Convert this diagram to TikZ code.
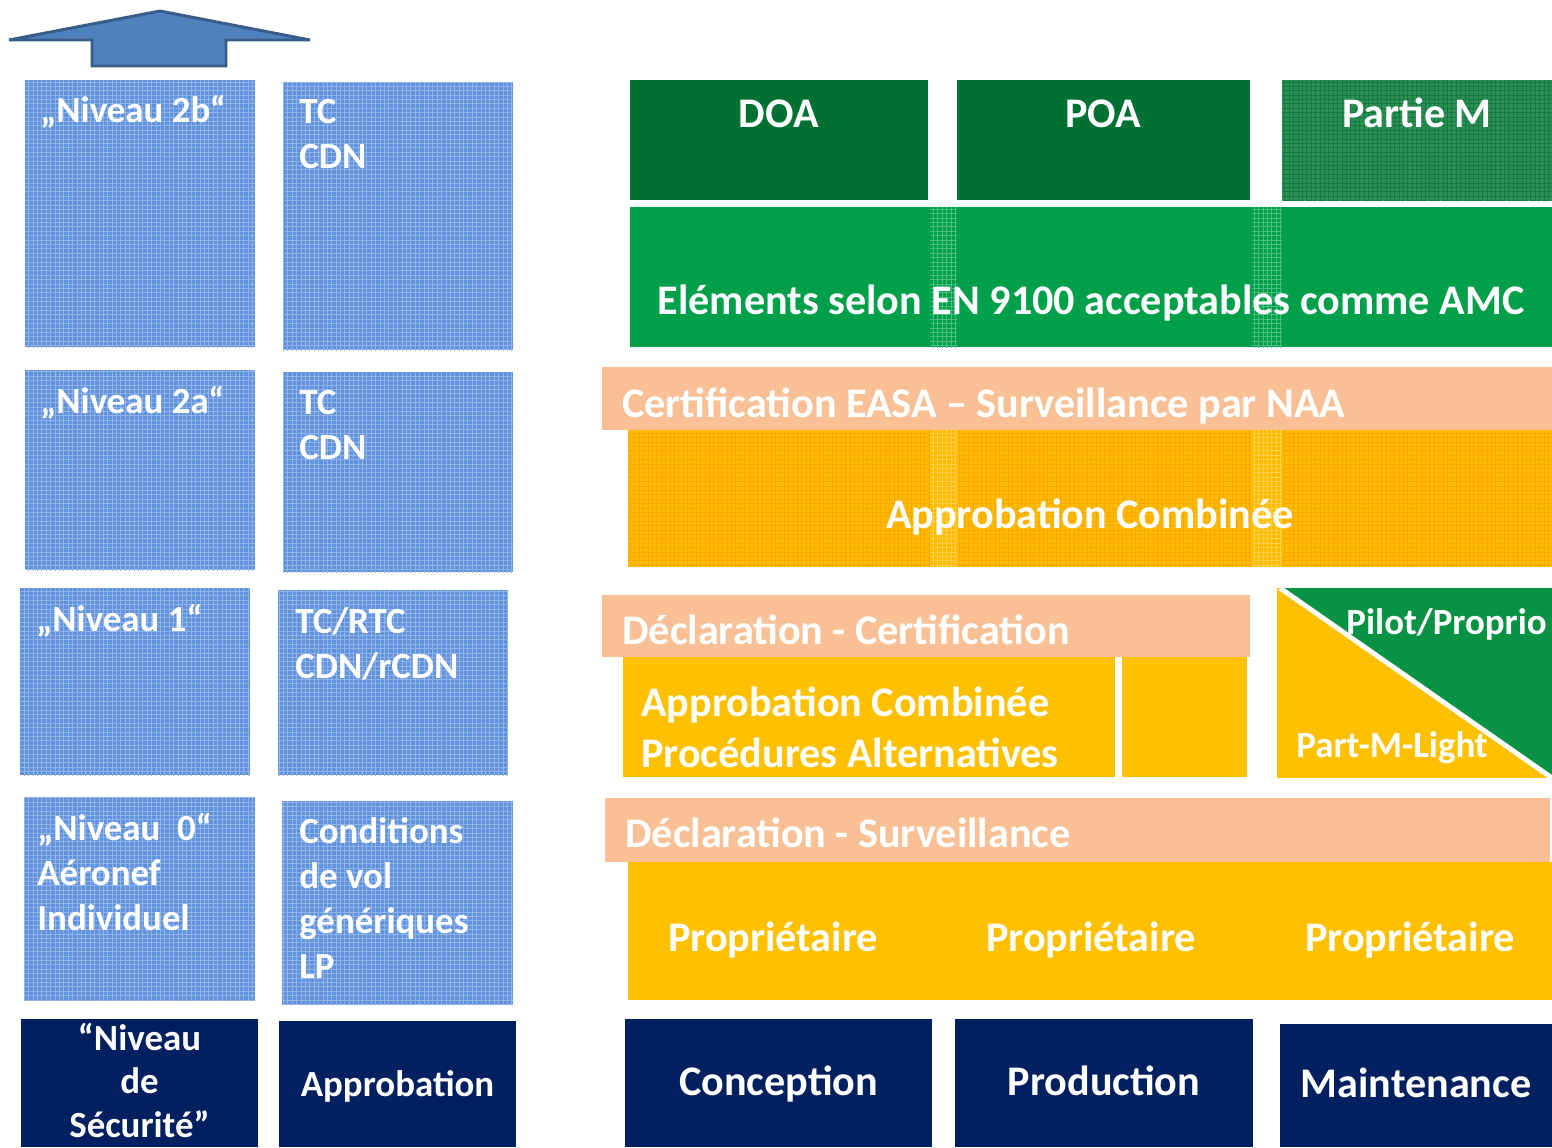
\documentclass[tikz,border=0pt]{standalone}
\usepackage{fontspec}
\setmainfont{Carlito}
\usetikzlibrary{patterns}

\definecolor{niveaublue}{RGB}{96,146,222}
\definecolor{arrowblue}{RGB}{79,129,189}
\definecolor{arrowedge}{RGB}{56,93,138}
\definecolor{navy}{RGB}{0,32,96}
\definecolor{darkgreen}{RGB}{0,112,51}
\definecolor{midgreen}{RGB}{45,142,84}
\definecolor{bandgreen}{RGB}{0,160,75}
\definecolor{trigreen}{RGB}{8,146,68}
\definecolor{peach}{RGB}{248,192,148}
\definecolor{amber}{RGB}{255,192,0}
\definecolor{deeporange}{RGB}{255,187,0}
\definecolor{dotorange}{RGB}{235,110,0}

\pgfdeclarepatternformonly{finegrid}{\pgfqpoint{-0.5pt}{-0.5pt}}{\pgfqpoint{2.5pt}{2.5pt}}{\pgfqpoint{2.5pt}{2.5pt}}{%
  \pgfsetlinewidth{0.35pt}%
  \pgfpathmoveto{\pgfqpoint{0pt}{1.25pt}}\pgfpathlineto{\pgfqpoint{2.5pt}{1.25pt}}%
  \pgfpathmoveto{\pgfqpoint{1.25pt}{0pt}}\pgfpathlineto{\pgfqpoint{1.25pt}{2.5pt}}%
  \pgfusepath{stroke}}

\begin{document}
\begin{tikzpicture}[x=0.02cm,y=-0.02cm,join=miter]
    \tikzstyle{bluefill} = [fill=niveaublue]
    \tikzstyle{bluegrid} = [pattern=finegrid,pattern color=niveaublue!70!white]
    \tikzstyle{navyfill} = [fill=navy]
    \tikzstyle{lbl} = [text=white,font=\fontsize{21}{25.5}\selectfont\bfseries,inner sep=0pt,align=left]
    \tikzstyle{big} = [text=white,font=\fontsize{24}{29.5}\selectfont\bfseries,inner sep=0pt]

    \useasboundingbox (0,0) rectangle (1552,1147);

    % arrow at the top left
    \filldraw[fill=arrowblue,draw=arrowedge,line width=1.7pt]
        (160,11)--(310,40)--(226,40)--(226,66)--(92,66)--(92,40)--(9,40)--cycle;

    % left columns: levels and approvals
    \fill[bluefill](25,80) rectangle (255,347);
    \fill[bluegrid](25,80) rectangle (255,347);
    \fill[bluefill](283,82) rectangle (513,350);
    \fill[bluegrid](283,82) rectangle (513,350);
    \fill[bluefill](25,370) rectangle (255,570);
    \fill[bluegrid](25,370) rectangle (255,570);
    \fill[bluefill](283,372) rectangle (513,572);
    \fill[bluegrid](283,372) rectangle (513,572);
    \fill[bluefill](20,588) rectangle (250,775);
    \fill[bluegrid](20,588) rectangle (250,775);
    \fill[bluefill](278,590) rectangle (508,775);
    \fill[bluegrid](278,590) rectangle (508,775);
    \fill[bluefill](24,797) rectangle (255,1000);
    \fill[bluegrid](24,797) rectangle (255,1000);
    \fill[bluefill](282,801) rectangle (513,1004);
    \fill[bluegrid](282,801) rectangle (513,1004);
    \fill[navyfill](21,1019) rectangle (258,1147);
    \fill[navyfill](279,1021) rectangle (516,1147);

    % multi-line labels sit on the baseline of their last line
    \node[lbl,anchor=base west] (niv2b) at (40,122) {„Niveau 2b“};
    \node[lbl,anchor=base west] (tc2b) at (299,168) {TC\\CDN};
    \node[lbl,anchor=base west] (niv2a) at (40,413) {„Niveau 2a“};
    \node[lbl,anchor=base west] (tc2a) at (299,459) {TC\\CDN};
    \node[lbl,anchor=base west] (niv1) at (36,631) {„Niveau 1“};
    \node[lbl,anchor=base west] (tc1) at (295,678) {TC/RTC\\CDN/rCDN};
    \node[lbl,anchor=base west] (niv0) at (37,930) {„Niveau~ 0“\\Aéronef\\Individuel};
    \node[lbl,anchor=base west] (cond0) at (299,978) {Conditions\\de vol\\génériques\\LP};
    \node[lbl,align=center,anchor=base] (secu) at (139.5,1137) {“Niveau\\[-1pt]de\\[-1pt]Sécurité”};
    \node[lbl,anchor=base] (appro) at (397.5,1096) {Approbation};

    % right side: organisations
    \fill[darkgreen](630,80) rectangle (928,200);
    \fill[darkgreen](957,80) rectangle (1250,200);
    \fill[midgreen](1282,80) rectangle (1552,200);
    \fill[pattern=finegrid,pattern color=midgreen!40!darkgreen](1282,80) rectangle (1552,200);
    \node[big,anchor=base] (doa) at (779,127) {DOA};
    \node[big,anchor=base] (poa) at (1103.5,127) {POA};
    \node[big,anchor=base] (partm) at (1417,127) {Partie M};

    \fill[bandgreen](630,207) rectangle (1552,347);
    \fill[pattern=finegrid,pattern color=bandgreen!70!white](930,207) rectangle (957,347);
    \fill[pattern=finegrid,pattern color=bandgreen!70!white](1252,207) rectangle (1282,347);
    \node[big,anchor=base] (en9100) at (1091,314) {Eléments selon EN 9100 acceptables comme AMC};

    \fill[peach](602,367) rectangle (1552,430);
    \node[big,anchor=base west] (easa) at (622,417) {Certification EASA – Surveillance par NAA};
    \fill[deeporange](628,430) rectangle (1552,567);
    \fill[pattern=finegrid,pattern color=deeporange!75!dotorange](628,430) rectangle (1552,567);
    \fill[pattern=finegrid,pattern color=deeporange!70!white](930,430) rectangle (957,567);
    \fill[pattern=finegrid,pattern color=deeporange!70!white](1252,430) rectangle (1282,567);
    \node[big,anchor=base] (combi) at (1090,528) {Approbation Combinée};

    \fill[peach](602,595) rectangle (1250,657);
    \node[big,anchor=base west] (declcert) at (622,644) {Déclaration - Certification};
    \fill[amber](623,657) rectangle (1115,777);
    \fill[amber](1122,657) rectangle (1247,777);
    \node[big,align=left,anchor=base west] (altern) at (641,767) {Approbation Combinée\\[-0.6pt]Procédures Alternatives};

    \fill[amber](1277,588) rectangle (1552,778);
    \fill[trigreen](1282,588)--(1552,588)--(1552,778)--cycle;
    \draw[white,line width=2.8pt](1280,588)--(1552,778);
    \node[lbl,anchor=base east] (pilot) at (1547,634) {Pilot/Proprio};
    \node[lbl,anchor=base west] (mlight) at (1296,757) {Part-M-Light};

    \fill[peach](605,798) rectangle (1550,862);
    \node[big,anchor=base west] (declsurv) at (625,847) {Déclaration - Surveillance};
    \fill[amber](628,862) rectangle (1552,1000);
    \node[big,anchor=base] (prop1) at (773,951) {Propriétaire};
    \node[big,anchor=base] (prop2) at (1091,951) {Propriétaire};
    \node[big,anchor=base] (prop3) at (1410,951) {Propriétaire};

    % bottom row: domains
    \fill[navyfill](625,1019) rectangle (932,1147);
    \fill[navyfill](955,1019) rectangle (1253,1147);
    \fill[navyfill](1280,1024) rectangle (1552,1147);
    \node[big,anchor=base] (concep) at (778.5,1095) {Conception};
    \node[big,anchor=base] (produc) at (1104,1095) {Production};
    \node[big,anchor=base] (mainten) at (1416,1097) {Maintenance};
\end{tikzpicture}
\end{document}
